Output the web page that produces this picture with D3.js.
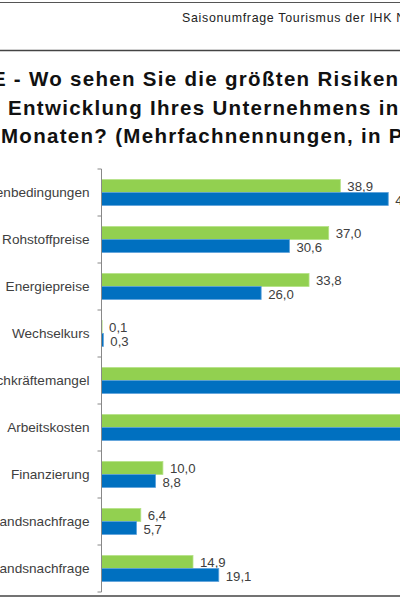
<!DOCTYPE html>
<html>
<head>
<meta charset="utf-8">
<script src="https://cdn.jsdelivr.net/npm/d3@7"></script>
<style>
  html, body { margin: 0; padding: 0; background: #fff; }
  svg { display: block; }
</style>
</head>
<body>
<svg id="chart" width="400" height="600"></svg>
<script>
// ---- data ----
const categories = [
  "Wirtschaftspolitische Rahmenbedingungen",
  "Rohstoffpreise",
  "Energiepreise",
  "Wechselkurs",
  "Fachkräftemangel",
  "Arbeitskosten",
  "Finanzierung",
  "Auslandsnachfrage",
  "Inlandsnachfrage"
];
const seriesNames = ["Vorjahr", "Aktuell"];
const seriesGreen = [38.9, 37.0, 33.8, 0.1, 66.3, 58.2, 10.0, 6.4, 14.9];
const seriesBlue  = [46.7, 30.6, 26.0, 0.3, 70.5, 61.4, 8.8, 5.7, 19.1];
const headerText = "Saisonumfrage Tourismus der IHK Niederbayern";
const titleLines = [
  "Frage E - Wo sehen Sie die größten Risiken für die",
  "wirtschaftliche Entwicklung Ihres Unternehmens in den",
  "nächsten 12 Monaten? (Mehrfachnennungen, in Prozent)"
];

const svg = d3.select("#chart");
const FONT = "'Liberation Sans', Arial, sans-serif";

// ---- page frame lines ----
svg.append("line").attr("x1", 0).attr("x2", 400).attr("y1", 2.5).attr("y2", 2.5)
  .attr("stroke", "#555").attr("stroke-width", 1);
svg.append("line").attr("x1", 0).attr("x2", 400).attr("y1", 50.5).attr("y2", 50.5)
  .attr("stroke", "#444").attr("stroke-width", 1.6);
svg.append("line").attr("x1", 0).attr("x2", 400).attr("y1", 596).attr("y2", 596)
  .attr("stroke", "#444").attr("stroke-width", 1.6);

// ---- header ----
svg.append("text").attr("x", 182).attr("y", 22)
  .attr("font-family", FONT).attr("font-size", 12.4).attr("fill", "#222")
  .attr("letter-spacing", 0.7)
  .text(headerText);

// ---- title ----
const anchors = [["Wo", 29], ["Entwicklung", 8], ["Monaten", 1]];
const baselines = [86, 114.5, 143];
titleLines.forEach((line, i) => {
  const t = svg.append("text")
    .attr("y", baselines[i])
    .attr("font-family", FONT).attr("font-size", 20.5).attr("font-weight", "bold")
    .attr("letter-spacing", 1.3)
    .attr("fill", "#111")
    .text(line);
  const idx = line.indexOf(anchors[i][0]);
  const off = idx > 0 ? t.node().getSubStringLength(0, idx) : 0;
  t.attr("x", anchors[i][1] - off);
});

// ---- scales ----
const x = d3.scaleLinear().domain([0, 50]).range([101.5, 101.5 + 307]);
const y = d3.scaleBand().domain(categories).range([169, 592])
  .paddingInner(0.45).paddingOuter(0.225);
const ySub = d3.scaleBand().domain(seriesNames).range([0, y.bandwidth()]);

const colors = { fill: ["#92D050", "#0070C0"], stroke: ["#B4E184", "#5AA0DA"] };
const series = [seriesGreen, seriesBlue];

// ---- bars ----
series.forEach((vals, s) => {
  const g = svg.append("g");
  g.selectAll("rect").data(categories).join("rect")
    .attr("x", x(0))
    .attr("y", (c) => y(c) + ySub(seriesNames[s]))
    .attr("width", (c, i) => x(vals[i]) - x(0))
    .attr("height", ySub.bandwidth())
    .attr("fill", colors.fill[s])
    .attr("stroke", colors.stroke[s]).attr("stroke-width", 0.8);
  g.selectAll("text").data(categories).join("text")
    .attr("x", (c, i) => x(vals[i]) + 7)
    .attr("y", (c) => y(c) + ySub(seriesNames[s]) + ySub.bandwidth() / 2 + 4.6 + (s === 1 ? 1 : 0))
    .attr("font-family", FONT).attr("font-size", 13.2).attr("fill", "#404040")
    .text((c, i) => d3.format(".1f")(vals[i]).replace(".", ","));
});

// ---- category axis ----
const axisG = svg.append("g");
axisG.append("line").attr("x1", x(0)).attr("x2", x(0))
  .attr("y1", y.range()[0]).attr("y2", y.range()[1])
  .attr("stroke", "#888").attr("stroke-width", 1);
const tickYs = d3.range(categories.length + 1).map(i => y.range()[0] + i * y.step());
axisG.selectAll("line.tick").data(tickYs).join("line").attr("class", "tick")
  .attr("x1", x(0) - 4).attr("x2", x(0)).attr("y1", d => d).attr("y2", d => d)
  .attr("stroke", "#888").attr("stroke-width", 1);
axisG.selectAll("text").data(categories).join("text")
  .attr("x", 89.5)
  .attr("y", c => y(c) + y.bandwidth() / 2 + 4.8)
  .attr("text-anchor", "end")
  .attr("font-family", FONT).attr("font-size", 13.6).attr("fill", "#404040")
  .text(c => c);
</script>
</body>
</html>
